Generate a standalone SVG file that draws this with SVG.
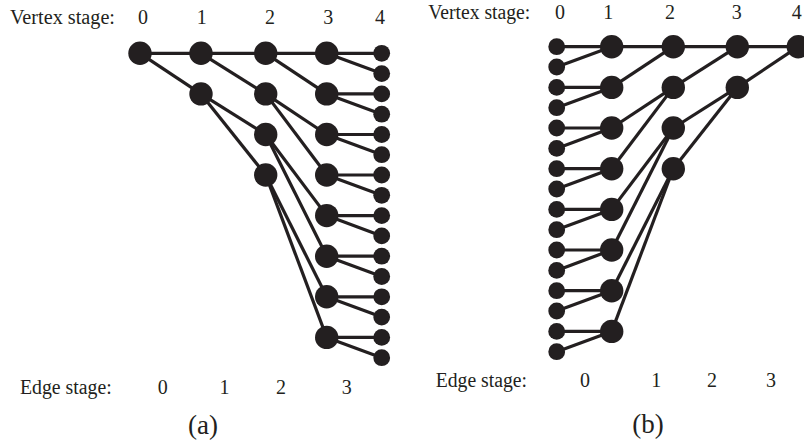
<svg xmlns="http://www.w3.org/2000/svg" width="804" height="444" viewBox="0 0 804 444">
<style>
.e{stroke:#231f20;stroke-width:3.2;fill:none}
.b{fill:#231f20}
.t{font-family:"Liberation Serif","Times New Roman",serif;fill:#231f20}
.v{font-size:20px}
.d{font-size:20px;text-anchor:middle}
.c{font-size:27px;text-anchor:middle}
</style>
<rect width="804" height="444" fill="#ffffff"/>
<g id="connectors" class="e">
<!-- (a) stage 0-1 -->
<line x1="140" y1="53.3" x2="201" y2="53.3"/>
<line x1="140" y1="53.3" x2="201" y2="93.9"/>
<!-- (a) stage 1-2 -->
<line x1="201" y1="53.3" x2="265.7" y2="53.3"/>
<line x1="201" y1="53.3" x2="265.7" y2="93.9"/>
<line x1="201" y1="93.9" x2="265.7" y2="134.5"/>
<line x1="201" y1="93.9" x2="265.7" y2="175"/>
<!-- (a) stage 2-3 -->
<line x1="265.7" y1="53.3" x2="326.7" y2="53.3"/>
<line x1="265.7" y1="53.3" x2="326.7" y2="93.9"/>
<line x1="265.7" y1="93.9" x2="326.7" y2="134.5"/>
<line x1="265.7" y1="93.9" x2="326.7" y2="175"/>
<line x1="265.7" y1="134.5" x2="326.7" y2="215.6"/>
<line x1="265.7" y1="134.5" x2="326.7" y2="256.2"/>
<line x1="265.7" y1="175" x2="326.7" y2="296.8"/>
<line x1="265.7" y1="175" x2="326.7" y2="337.4"/>
<!-- (a) stage 3-4 -->
<line x1="326.7" y1="53.3" x2="381.7" y2="53.3"/>
<line x1="326.7" y1="53.3" x2="381.7" y2="73.6"/>
<line x1="326.7" y1="93.9" x2="381.7" y2="93.9"/>
<line x1="326.7" y1="93.9" x2="381.7" y2="114.2"/>
<line x1="326.7" y1="134.5" x2="381.7" y2="134.5"/>
<line x1="326.7" y1="134.5" x2="381.7" y2="154.7"/>
<line x1="326.7" y1="175" x2="381.7" y2="175"/>
<line x1="326.7" y1="175" x2="381.7" y2="195.3"/>
<line x1="326.7" y1="215.6" x2="381.7" y2="215.6"/>
<line x1="326.7" y1="215.6" x2="381.7" y2="235.9"/>
<line x1="326.7" y1="256.2" x2="381.7" y2="256.2"/>
<line x1="326.7" y1="256.2" x2="381.7" y2="276.5"/>
<line x1="326.7" y1="296.8" x2="381.7" y2="296.8"/>
<line x1="326.7" y1="296.8" x2="381.7" y2="317.1"/>
<line x1="326.7" y1="337.4" x2="381.7" y2="337.4"/>
<line x1="326.7" y1="337.4" x2="381.7" y2="357.7"/>
<!-- (b) stage 0-1 -->
<line x1="556.7" y1="46.7" x2="611.7" y2="46.7"/>
<line x1="556.7" y1="67" x2="611.7" y2="46.7"/>
<line x1="556.7" y1="87.4" x2="611.7" y2="87.4"/>
<line x1="556.7" y1="107.7" x2="611.7" y2="87.4"/>
<line x1="556.7" y1="128" x2="611.7" y2="128"/>
<line x1="556.7" y1="148.4" x2="611.7" y2="128"/>
<line x1="556.7" y1="168.7" x2="611.7" y2="168.7"/>
<line x1="556.7" y1="189" x2="611.7" y2="168.7"/>
<line x1="556.7" y1="209.4" x2="611.7" y2="209.4"/>
<line x1="556.7" y1="229.7" x2="611.7" y2="209.4"/>
<line x1="556.7" y1="250" x2="611.7" y2="250"/>
<line x1="556.7" y1="270.4" x2="611.7" y2="250"/>
<line x1="556.7" y1="290.7" x2="611.7" y2="290.7"/>
<line x1="556.7" y1="311" x2="611.7" y2="290.7"/>
<line x1="556.7" y1="331.4" x2="611.7" y2="331.4"/>
<line x1="556.7" y1="351.7" x2="611.7" y2="331.4"/>
<!-- (b) stage 1-2 -->
<line x1="611.7" y1="46.7" x2="673.3" y2="46.7"/>
<line x1="611.7" y1="87.4" x2="673.3" y2="46.7"/>
<line x1="611.7" y1="128" x2="673.3" y2="87.4"/>
<line x1="611.7" y1="168.7" x2="673.3" y2="87.4"/>
<line x1="611.7" y1="209.4" x2="673.3" y2="128"/>
<line x1="611.7" y1="250" x2="673.3" y2="128"/>
<line x1="611.7" y1="290.7" x2="673.3" y2="168.7"/>
<line x1="611.7" y1="331.4" x2="673.3" y2="168.7"/>
<!-- (b) stage 2-3 -->
<line x1="673.3" y1="46.7" x2="737.3" y2="46.7"/>
<line x1="673.3" y1="87.4" x2="737.3" y2="46.7"/>
<line x1="673.3" y1="128" x2="737.3" y2="87.4"/>
<line x1="673.3" y1="168.7" x2="737.3" y2="87.4"/>
<!-- (b) stage 3-4 -->
<line x1="737.3" y1="46.7" x2="798.3" y2="46.7"/>
<line x1="737.3" y1="87.4" x2="798.3" y2="46.7"/>
</g>
<!-- (a) nodes -->
<g id="a-v0-0"><circle class="b" cx="140" cy="53.3" r="11.7"/></g>
<g id="a-v1-0"><circle class="b" cx="201" cy="53.3" r="11.7"/></g>
<g id="a-v1-1"><circle class="b" cx="201" cy="93.9" r="11.7"/></g>
<g id="a-v2-0"><circle class="b" cx="265.7" cy="53.3" r="11.7"/></g>
<g id="a-v2-1"><circle class="b" cx="265.7" cy="93.9" r="11.7"/></g>
<g id="a-v2-2"><circle class="b" cx="265.7" cy="134.5" r="11.7"/></g>
<g id="a-v2-3"><circle class="b" cx="265.7" cy="175" r="11.7"/></g>
<g id="a-v3-0"><circle class="b" cx="326.7" cy="53.3" r="11.7"/></g>
<g id="a-v3-1"><circle class="b" cx="326.7" cy="93.9" r="11.7"/></g>
<g id="a-v3-2"><circle class="b" cx="326.7" cy="134.5" r="11.7"/></g>
<g id="a-v3-3"><circle class="b" cx="326.7" cy="175" r="11.7"/></g>
<g id="a-v3-4"><circle class="b" cx="326.7" cy="215.6" r="11.7"/></g>
<g id="a-v3-5"><circle class="b" cx="326.7" cy="256.2" r="11.7"/></g>
<g id="a-v3-6"><circle class="b" cx="326.7" cy="296.8" r="11.7"/></g>
<g id="a-v3-7"><circle class="b" cx="326.7" cy="337.4" r="11.7"/></g>
<g id="a-v4-0"><circle class="b" cx="381.7" cy="53.3" r="8.4"/></g>
<g id="a-v4-1"><circle class="b" cx="381.7" cy="73.6" r="8.4"/></g>
<g id="a-v4-2"><circle class="b" cx="381.7" cy="93.9" r="8.4"/></g>
<g id="a-v4-3"><circle class="b" cx="381.7" cy="114.2" r="8.4"/></g>
<g id="a-v4-4"><circle class="b" cx="381.7" cy="134.5" r="8.4"/></g>
<g id="a-v4-5"><circle class="b" cx="381.7" cy="154.7" r="8.4"/></g>
<g id="a-v4-6"><circle class="b" cx="381.7" cy="175" r="8.4"/></g>
<g id="a-v4-7"><circle class="b" cx="381.7" cy="195.3" r="8.4"/></g>
<g id="a-v4-8"><circle class="b" cx="381.7" cy="215.6" r="8.4"/></g>
<g id="a-v4-9"><circle class="b" cx="381.7" cy="235.9" r="8.4"/></g>
<g id="a-v4-10"><circle class="b" cx="381.7" cy="256.2" r="8.4"/></g>
<g id="a-v4-11"><circle class="b" cx="381.7" cy="276.5" r="8.4"/></g>
<g id="a-v4-12"><circle class="b" cx="381.7" cy="296.8" r="8.4"/></g>
<g id="a-v4-13"><circle class="b" cx="381.7" cy="317.1" r="8.4"/></g>
<g id="a-v4-14"><circle class="b" cx="381.7" cy="337.4" r="8.4"/></g>
<g id="a-v4-15"><circle class="b" cx="381.7" cy="357.7" r="8.4"/></g>
<!-- (b) nodes -->
<g id="b-v0-0"><circle class="b" cx="556.7" cy="46.7" r="8.4"/></g>
<g id="b-v0-1"><circle class="b" cx="556.7" cy="67" r="8.4"/></g>
<g id="b-v0-2"><circle class="b" cx="556.7" cy="87.4" r="8.4"/></g>
<g id="b-v0-3"><circle class="b" cx="556.7" cy="107.7" r="8.4"/></g>
<g id="b-v0-4"><circle class="b" cx="556.7" cy="128" r="8.4"/></g>
<g id="b-v0-5"><circle class="b" cx="556.7" cy="148.4" r="8.4"/></g>
<g id="b-v0-6"><circle class="b" cx="556.7" cy="168.7" r="8.4"/></g>
<g id="b-v0-7"><circle class="b" cx="556.7" cy="189" r="8.4"/></g>
<g id="b-v0-8"><circle class="b" cx="556.7" cy="209.4" r="8.4"/></g>
<g id="b-v0-9"><circle class="b" cx="556.7" cy="229.7" r="8.4"/></g>
<g id="b-v0-10"><circle class="b" cx="556.7" cy="250" r="8.4"/></g>
<g id="b-v0-11"><circle class="b" cx="556.7" cy="270.4" r="8.4"/></g>
<g id="b-v0-12"><circle class="b" cx="556.7" cy="290.7" r="8.4"/></g>
<g id="b-v0-13"><circle class="b" cx="556.7" cy="311" r="8.4"/></g>
<g id="b-v0-14"><circle class="b" cx="556.7" cy="331.4" r="8.4"/></g>
<g id="b-v0-15"><circle class="b" cx="556.7" cy="351.7" r="8.4"/></g>
<g id="b-v1-0"><circle class="b" cx="611.7" cy="46.7" r="11.7"/></g>
<g id="b-v1-1"><circle class="b" cx="611.7" cy="87.4" r="11.7"/></g>
<g id="b-v1-2"><circle class="b" cx="611.7" cy="128" r="11.7"/></g>
<g id="b-v1-3"><circle class="b" cx="611.7" cy="168.7" r="11.7"/></g>
<g id="b-v1-4"><circle class="b" cx="611.7" cy="209.4" r="11.7"/></g>
<g id="b-v1-5"><circle class="b" cx="611.7" cy="250" r="11.7"/></g>
<g id="b-v1-6"><circle class="b" cx="611.7" cy="290.7" r="11.7"/></g>
<g id="b-v1-7"><circle class="b" cx="611.7" cy="331.4" r="11.7"/></g>
<g id="b-v2-0"><circle class="b" cx="673.3" cy="46.7" r="11.7"/></g>
<g id="b-v2-1"><circle class="b" cx="673.3" cy="87.4" r="11.7"/></g>
<g id="b-v2-2"><circle class="b" cx="673.3" cy="128" r="11.7"/></g>
<g id="b-v2-3"><circle class="b" cx="673.3" cy="168.7" r="11.7"/></g>
<g id="b-v3-0"><circle class="b" cx="737.3" cy="46.7" r="11.7"/></g>
<g id="b-v3-1"><circle class="b" cx="737.3" cy="87.4" r="11.7"/></g>
<g id="b-v4-0"><circle class="b" cx="798.3" cy="46.7" r="11.7"/></g>
<!-- labels (a) -->
<g id="a-labels" class="t">
<text class="v" x="10" y="23.5" textLength="105" lengthAdjust="spacingAndGlyphs">Vertex stage:</text>
<text class="d" x="143" y="23.5">0</text>
<text class="d" x="201.7" y="23.5">1</text>
<text class="d" x="270" y="23.5">2</text>
<text class="d" x="328.3" y="23.5">3</text>
<text class="d" x="380" y="23.5">4</text>
<text class="v" x="20" y="393.5" textLength="91.7" lengthAdjust="spacingAndGlyphs">Edge stage:</text>
<text class="d" x="162.7" y="393.5">0</text>
<text class="d" x="224.5" y="393.5">1</text>
<text class="d" x="281" y="393.5">2</text>
<text class="d" x="346.7" y="393.5">3</text>
<text class="c" x="203" y="434">(a)</text>
</g>
<!-- labels (b) -->
<g id="b-labels" class="t">
<text class="v" x="428.3" y="18.5" textLength="102" lengthAdjust="spacingAndGlyphs">Vertex stage:</text>
<text class="d" x="560" y="18.5">0</text>
<text class="d" x="608.3" y="18.5">1</text>
<text class="d" x="670" y="18.5">2</text>
<text class="d" x="736.7" y="18.5">3</text>
<text class="d" x="796.7" y="18.5">4</text>
<text class="v" x="435.7" y="386.7" textLength="91.3" lengthAdjust="spacingAndGlyphs">Edge stage:</text>
<text class="d" x="585" y="386.7">0</text>
<text class="d" x="656.2" y="386.7">1</text>
<text class="d" x="712" y="386.7">2</text>
<text class="d" x="771" y="386.7">3</text>
<text class="c" x="648" y="433">(b)</text>
</g>
</svg>
